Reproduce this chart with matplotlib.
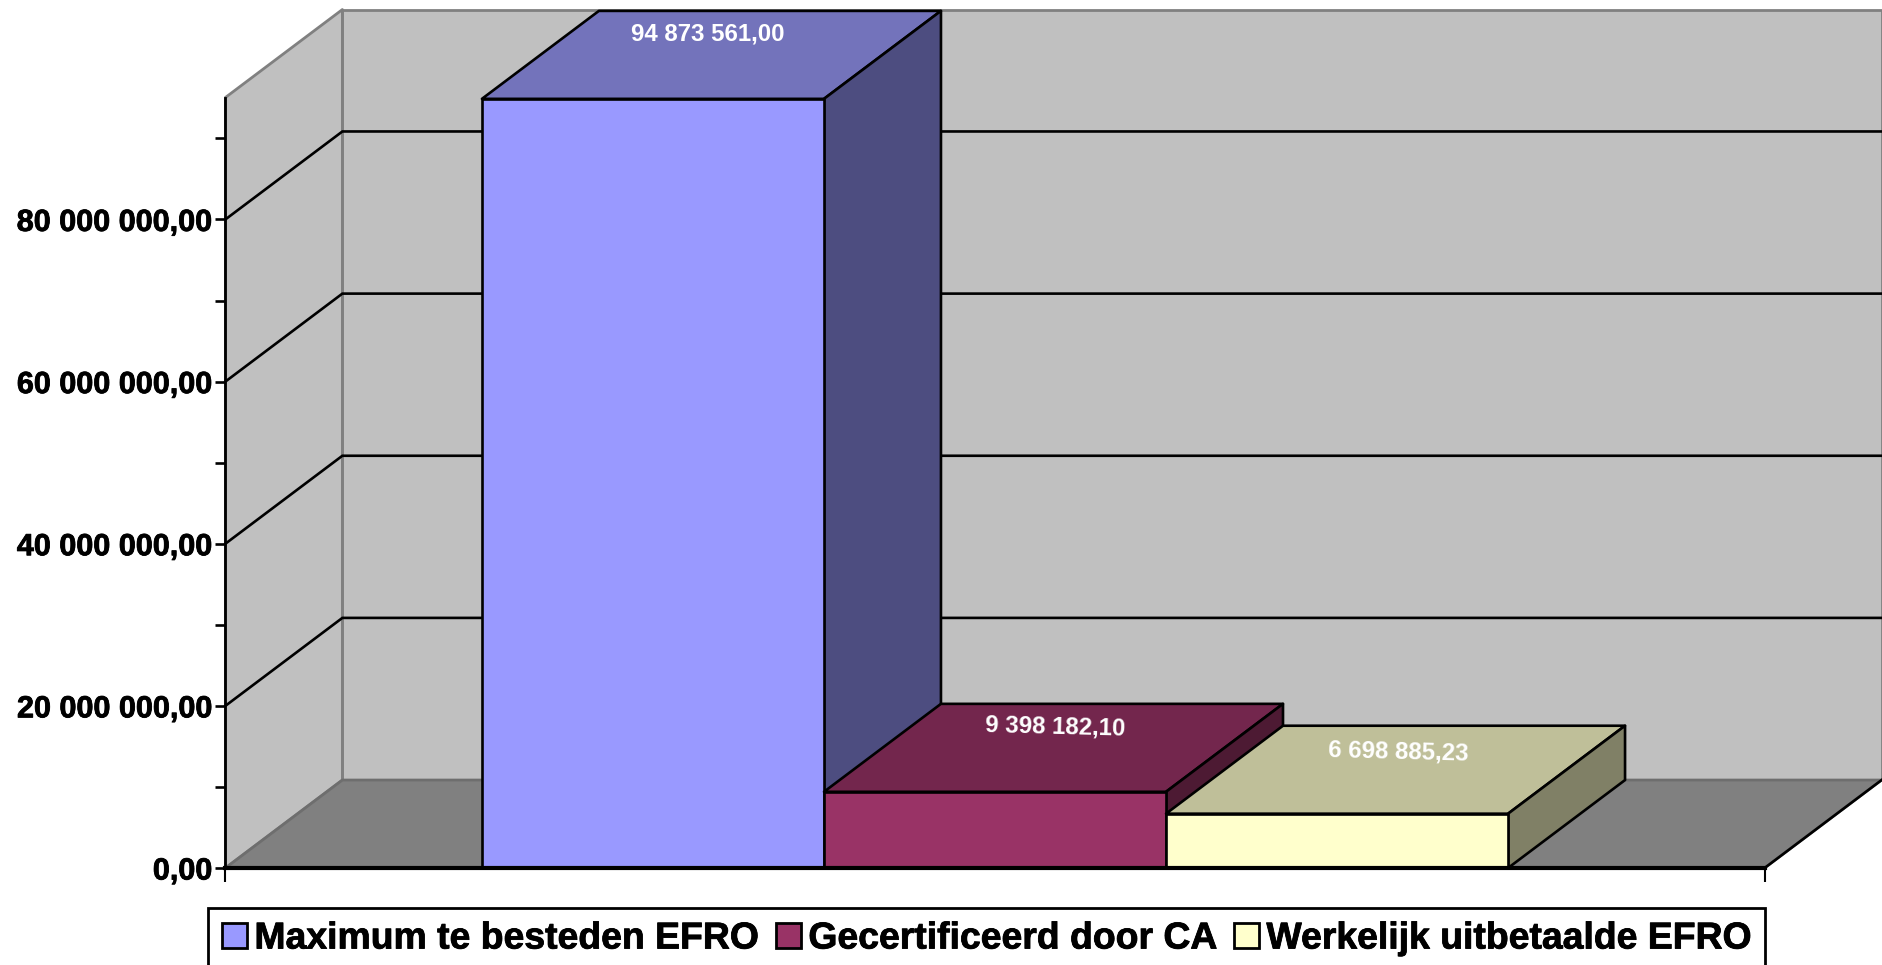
import matplotlib
matplotlib.use("Agg")
import matplotlib.pyplot as plt
import matplotlib.patheffects as pe
from matplotlib.patches import Patch, Polygon

plt.rcParams['font.family'] = ['Liberation Sans', 'DejaVu Sans']
plt.rcParams['font.weight'] = 'bold'

# data
categories = ["Maximum te besteden EFRO", "Gecertificeerd door CA", "Werkelijk uitbetaalde EFRO"]
values = [94873561.00, 9398182.10, 6698885.23]
value_labels = ["94 873 561,00", "9 398 182,10", "6 698 885,23"]
major_ticks = [0, 20000000, 40000000, 60000000, 80000000]
minor_ticks = [10000000, 30000000, 50000000, 70000000, 90000000]
tick_labels = ["0,00", "20 000 000,00", "40 000 000,00", "60 000 000,00", "80 000 000,00"]

# colours: front, top, side
front_colors = ["#9999FF", "#993366", "#FFFFCC"]
top_colors = ["#7373BB", "#73264D", "#BFBF99"]
side_colors = ["#4D4D80", "#4D1A33", "#808066"]

# 3d look: depth of the box in data units
DX = 0.342
DY = 10850000
XMIN, XMAX = -1.25, 3.25
YMAX = 95040000

W, H = 1883, 965
fig = plt.figure(figsize=(W / 100, H / 100), dpi=100)
ax = fig.add_axes([225.4 / W, (H - 868) / H, (1764.6 - 225.4) / W, (868 - 97.5) / H])
ax.set_xlim(XMIN, XMAX)
ax.set_ylim(0, YMAX)
ax.patch.set_visible(False)

heavy = [pe.withStroke(linewidth=0.6, foreground="black")]


def poly(points, color, edge, z, lw=1.9):
    p = Polygon(points, closed=True, facecolor=color, edgecolor=edge, linewidth=lw,
                joinstyle='round', clip_on=False, zorder=z)
    ax.add_patch(p)


# walls and floor
poly([(XMIN + DX, DY), (XMAX + DX, DY), (XMAX + DX, YMAX + DY), (XMIN + DX, YMAX + DY)], "#C0C0C0", "#808080", 1, 2)
poly([(XMIN, 0), (XMIN + DX, DY), (XMIN + DX, YMAX + DY), (XMIN, YMAX)], "#C0C0C0", "#808080", 1, 2)
poly([(XMIN, 0), (XMAX, 0), (XMAX + DX, DY), (XMIN + DX, DY)], "#808080", "#6E6E6E", 2, 2)
ax.plot([XMAX, XMAX + DX], [0, DY], color="black", lw=1.9, clip_on=False, zorder=3)

# gridlines go on both walls
for t in major_ticks[1:]:
    ax.plot([XMIN, XMIN + DX, XMAX + DX], [t, t + DY, t + DY], color="black", lw=1.9,
            clip_on=False, zorder=3, solid_joinstyle='miter')

# bars
for i, v in enumerate(values):
    z = 4 + i
    left, right = i - 0.5, i + 0.5
    poly([(left, v), (right, v), (right + DX, v + DY), (left + DX, v + DY)], top_colors[i], "black", z)
    poly([(right, 0), (right + DX, DY), (right + DX, v + DY), (right, v)], side_colors[i], "black", z)
    ax.bar(i, v, width=1.0, color=front_colors[i], edgecolor="black", linewidth=1.9, zorder=z, clip_on=False)

# value labels, lying on the top faces
label_rot = [0, -1.5, -1.5]
label_dx = [-0.010, 0.004, 0.008]
label_dy = [-200000, -100000, -500000]
for i, v in enumerate(values):
    ax.text(i + DX / 2 + label_dx[i], v + 0.75 * DY + label_dy[i], value_labels[i], color="white",
            fontsize=17.3, fontweight='bold', ha='center', va='center', rotation=label_rot[i],
            rotation_mode='anchor', clip_on=False, zorder=10)

# axes
for s in ['top', 'right']:
    ax.spines[s].set_visible(False)
ax.spines['left'].set_linewidth(2.0)
ax.spines['bottom'].set_linewidth(3.0)
ax.spines['left'].set_zorder(9)
ax.spines['bottom'].set_zorder(9)
ax.set_yticks(major_ticks)
ax.set_yticklabels(tick_labels, fontsize=22, fontweight='bold', path_effects=heavy)
ax.set_yticks(minor_ticks, minor=True)
ax.tick_params(axis='y', which='both', length=7.4, width=1.9, pad=2)
ax.set_xticks([XMIN, XMAX])
ax.set_xticklabels(["", ""])
ax.tick_params(axis='x', length=10, width=1.5)

# legend
handles = [Patch(facecolor=c, edgecolor="black", linewidth=2.0) for c in front_colors]
leg = fig.legend(handles, categories, ncol=3, loc='center', bbox_to_anchor=(986.8 / W, (H - 939) / H),
                 prop={'family': 'Liberation Sans', 'weight': 'bold', 'size': 26.9},
                 frameon=True, fancybox=False, framealpha=1, edgecolor="black",
                 handlelength=0.67, handleheight=0.66, handletextpad=0.2, columnspacing=0.45,
                 borderpad=0.36, borderaxespad=0)
leg.get_frame().set_linewidth(2.0)
for t in leg.get_texts():
    t.set_path_effects(heavy)

fig.savefig("out.png", dpi=100, facecolor="white")
